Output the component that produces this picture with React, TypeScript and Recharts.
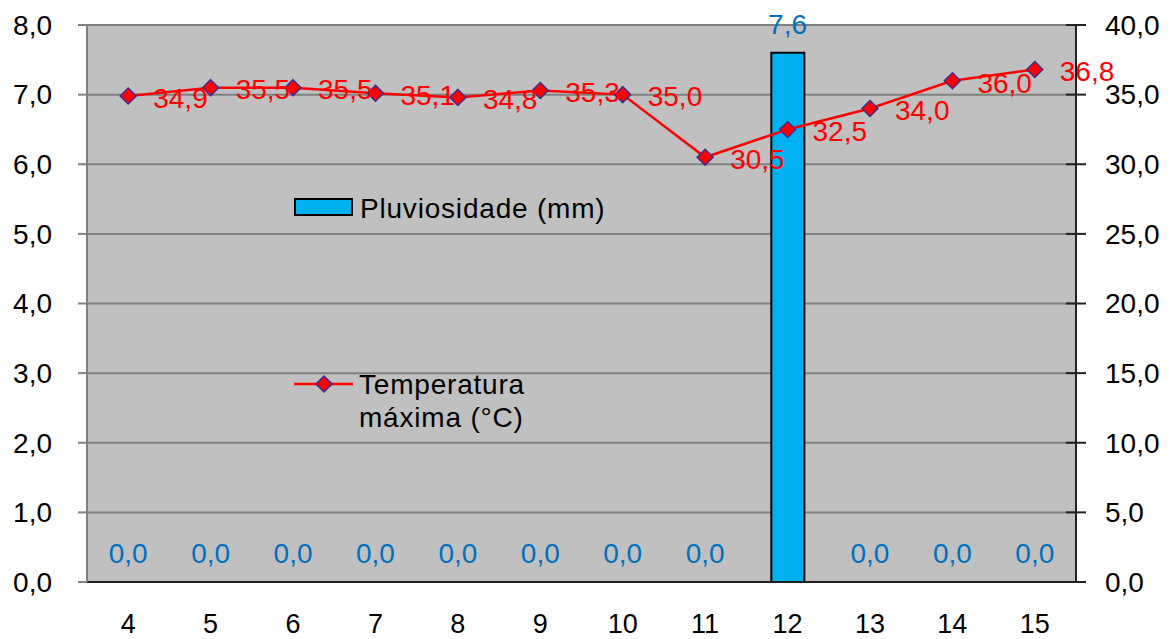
import { ComposedChart, Bar, Line, XAxis, YAxis, CartesianGrid, LabelList, Legend } from "recharts";

const days = ["4", "5", "6", "7", "8", "9", "10", "11", "12", "13", "14", "15"];
const rain = [0, 0, 0, 0, 0, 0, 0, 0, 7.6, 0, 0, 0];
const tempMax = [34.9, 35.5, 35.5, 35.1, 34.8, 35.3, 35.0, 30.5, 32.5, 34.0, 36.0, 36.8];
const leftTicks = [0, 1, 2, 3, 4, 5, 6, 7, 8];
const rightTicks = [0, 5, 10, 15, 20, 25, 30, 35, 40];

const data = days.map((d, i) => ({ day: d, rain: rain[i], temp: tempMax[i] }));

const FONT = "'Liberation Sans', Arial, sans-serif";
const fmt = (v: number) => v.toFixed(1).replace(".", ",");

function LeftTick({ x, y, payload }: any) {
  return (
    <g>
      <line x1={x - 9} x2={x} y1={y} y2={y} stroke="#808080" strokeWidth={2} />
      <text x={x - 35} y={y} dy="0.35em" textAnchor="end" fontSize={28} fill="#000" fontFamily={FONT}>
        {fmt(payload.value)}
      </text>
    </g>
  );
}

function RightTick({ x, y, payload }: any) {
  return (
    <g>
      <line x1={x - 10} x2={x + 10} y1={y} y2={y} stroke="#222" strokeWidth={2} />
      <text x={x + 29} y={y} dy="0.35em" textAnchor="start" fontSize={28} fill="#000" fontFamily={FONT}>
        {fmt(payload.value)}
      </text>
    </g>
  );
}

function DayTick({ x, y, payload }: any) {
  return (
    <text x={x} y={y + 42} dy="0.35em" textAnchor="middle" fontSize={27} fill="#000" fontFamily={FONT}>
      {payload.value}
    </text>
  );
}

function RainLabel({ x, y, value }: any) {
  return (
    <text x={x} y={y - 29} dy="0.35em" textAnchor="middle" fontSize={28} fill="#0070C0" fontFamily={FONT}>
      {fmt(value)}
    </text>
  );
}

function TempLabel({ x, y, value }: any) {
  return (
    <text x={x + 25} y={y + 2} dy="0.35em" textAnchor="start" fontSize={28} fill="#FF0000" fontFamily={FONT}>
      {fmt(value)}
    </text>
  );
}

function Diamond({ cx, cy }: any) {
  const r = 8;
  return (
    <polygon
      points={`${cx},${cy - r} ${cx + r},${cy} ${cx},${cy + r} ${cx - r},${cy}`}
      fill="#FF0000"
      stroke="#3B2F8F"
      strokeWidth={1.5}
    />
  );
}

function ChartLegend() {
  return (
    <svg width={340} height={250} style={{ display: "block", overflow: "visible" }}>
      <rect x={1} y={9} width={57} height={16} fill="#00B0F0" stroke="#000" strokeWidth={2} />
      <text x={66} y={18} dy="0.35em" fontSize={28} fill="#000" fontFamily={FONT} letterSpacing={0.8}>
        Pluviosidade (mm)
      </text>
      <line x1={0} x2={59} y1={194} y2={194} stroke="#FF0000" strokeWidth={2.5} />
      <Diamond cx={30} cy={194} />
      <text x={65} y={194} dy="0.35em" fontSize={28} fill="#000" fontFamily={FONT} letterSpacing={0.8}>
        Temperatura
      </text>
      <text x={65} y={227} dy="0.35em" fontSize={28} fill="#000" fontFamily={FONT} letterSpacing={0.8}>
        máxima (°C)
      </text>
    </svg>
  );
}

export default function App() {
  return (
    <div style={{ position: "absolute", left: 0, top: 0, background: "#fff" }}>
      <ComposedChart width={1175} height={639} data={data} margin={{ top: 25, right: 0, bottom: 0, left: 0 }}>
        <CartesianGrid yAxisId="left" vertical={false} fill="#C0C0C0" fillOpacity={1} stroke="#808080" strokeWidth={2} />
        <XAxis
          dataKey="day"
          height={57}
          tickSize={0}
          tickMargin={0}
          tickLine={false}
          tick={<DayTick />}
          axisLine={{ stroke: "#222", strokeWidth: 2 }}
        />
        <YAxis
          yAxisId="left"
          orientation="left"
          width={87}
          domain={[0, 8]}
          ticks={leftTicks}
          tickSize={0}
          tickMargin={0}
          tickLine={false}
          tick={<LeftTick />}
          axisLine={{ stroke: "#808080", strokeWidth: 2 }}
        />
        <YAxis
          yAxisId="right"
          orientation="right"
          width={99}
          domain={[0, 40]}
          ticks={rightTicks}
          tickSize={0}
          tickMargin={0}
          tickLine={false}
          tick={<RightTick />}
          axisLine={{ stroke: "#222", strokeWidth: 2 }}
        />
        <Legend
          layout="vertical"
          align="center"
          verticalAlign="middle"
          content={() => <ChartLegend />}
          wrapperStyle={{ left: 294, top: 190, width: 340, height: 250 }}
        />
        <Bar yAxisId="left" dataKey="rain" barSize={33} fill="#00B0F0" stroke="#000" strokeWidth={2} isAnimationActive={false} />
        {/* invisible series carrying the rain value labels, so zero days get their "0,0" too */}
        <Line
          yAxisId="left"
          dataKey="rain"
          stroke="none"
          dot={false}
          activeDot={false}
          legendType="none"
          isAnimationActive={false}
        >
          <LabelList dataKey="rain" content={<RainLabel />} />
        </Line>
        <Line
          yAxisId="right"
          dataKey="temp"
          stroke="#FF0000"
          strokeWidth={2.5}
          dot={<Diamond />}
          activeDot={false}
          isAnimationActive={false}
        >
          <LabelList dataKey="temp" content={<TempLabel />} />
        </Line>
      </ComposedChart>
    </div>
  );
}
